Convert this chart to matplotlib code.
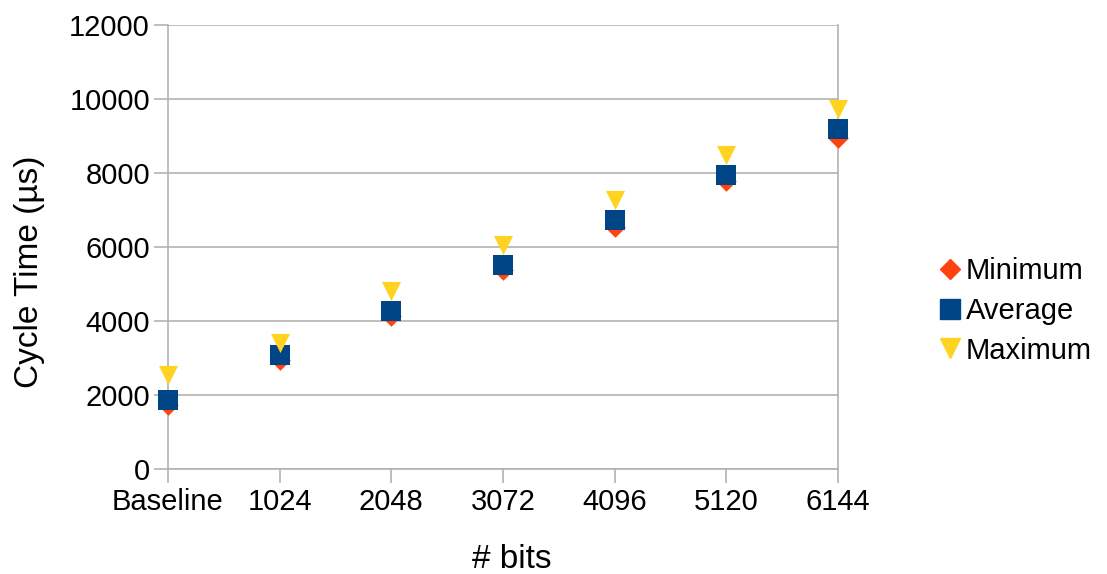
import matplotlib.pyplot as plt
from matplotlib.lines import Line2D

plt.rcParams['font.family'] = ['Liberation Sans', 'DejaVu Sans']

# data
labels = ["Baseline", "1024", "2048", "3072", "4096", "5120", "6144"]
minimum = [1730, 2950, 4130, 5370, 6550, 7780, 8950]
average = [1870, 3080, 4270, 5510, 6730, 7950, 9180]
maximum = [2540, 3400, 4810, 6050, 7260, 8490, 9730]

c_min = "#ff420e"
c_avg = "#004586"
c_max = "#ffd320"
grid_c = "#b3b3b3"

fig = plt.figure(figsize=(11.07, 5.74), dpi=100)
ax = fig.add_axes([168 / 1107, 1 - 469 / 574, (838 - 168) / 1107, (469 - 25) / 574])

x = list(range(len(labels)))
ax.scatter(x, minimum, marker="D", s=110, color=c_min, zorder=3, clip_on=False, linewidths=0)
ax.scatter(x, average, marker="s", s=210, color=c_avg, zorder=4, clip_on=False, linewidths=0)
ax.scatter(x, maximum, marker="v", s=190, color=c_max, zorder=5, clip_on=False, linewidths=0)

ax.set_xlim(0, len(labels) - 1)
ax.set_ylim(0, 12000)
ax.set_yticks(range(0, 12001, 2000))
ax.set_xticks(x)
ax.set_xticklabels(labels)
ax.yaxis.grid(True, color=grid_c, linewidth=1.2)
ax.set_axisbelow(True)

for s in ["left", "bottom", "right"]:
    ax.spines[s].set_color(grid_c)
    ax.spines[s].set_linewidth(1.2)
ax.spines["top"].set_visible(False)
ax.tick_params(axis="both", colors=grid_c, labelcolor="black", labelsize=21, length=10, width=1.2)
ax.tick_params(axis="x", pad=4)
ax.tick_params(axis="y", pad=3)

ax.set_xlabel("# bits", fontsize=24, va="center")
ax.xaxis.set_label_coords((512 - 168) / 670, (469 - 560) / 444)
ax.set_ylabel("Cycle Time (µs)", fontsize=24, va="center")
ax.yaxis.set_label_coords((30 - 168) / 670, (469 - 272) / 444)

handles = [
    Line2D([], [], marker="D", linestyle="", color=c_min, markersize=10),
    Line2D([], [], marker="s", linestyle="", color=c_avg, markersize=14),
    Line2D([], [], marker="v", linestyle="", color=c_max, markersize=14),
]
fig.legend(handles, ["Minimum", "Average", "Maximum"], loc="center left",
           bbox_to_anchor=(935 / 1107, 1 - 311 / 574), frameon=False,
           fontsize=21, handletextpad=0.05, handlelength=1.0, labelspacing=0.4,
           borderpad=0, borderaxespad=0)

fig.savefig("out.png", dpi=100)
